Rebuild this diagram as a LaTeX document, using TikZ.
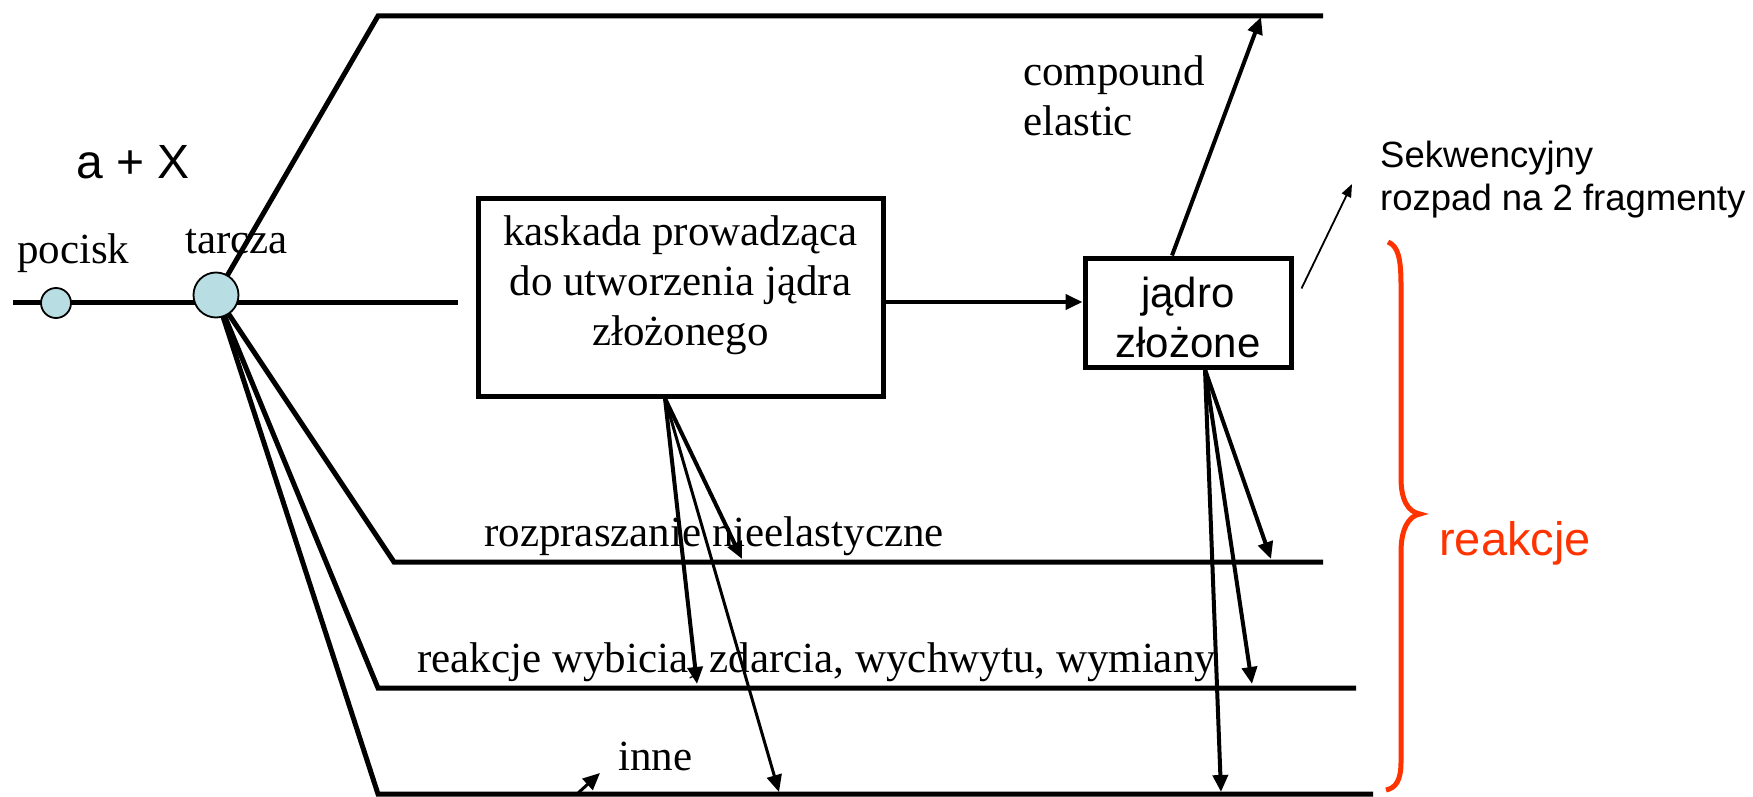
\documentclass[tikz,border=0pt]{standalone}
\usepackage{fontspec}
\setmainfont{Liberation Serif}
\setsansfont{Liberation Sans}
\usetikzlibrary{arrows.meta}
\definecolor{ballfill}{RGB}{184,222,227}
\definecolor{bracered}{RGB}{255,51,0}
\begin{document}
\begin{tikzpicture}[x=1pt,y=-1pt,
  thickline/.style={line width=5pt, line join=miter},
  boxstyle/.style={draw, line width=5pt, rectangle, inner sep=0pt, fill=white},
  ball/.style={circle, draw, line width=1.8pt, fill=ballfill, inner sep=0pt},
  serif/.style={font=\fontsize{43}{50}\selectfont, inner sep=0pt},
  sans/.style={font=\sffamily\fontsize{36.5}{43}\selectfont, inner sep=0pt},
  arr/.style={line width=4pt, -{Triangle[length=17pt,width=15pt]}},
  thinarr/.style={line width=1.8pt, -{Triangle[length=13pt,width=10pt]}},
]
\useasboundingbox (0,0) rectangle (1753,797);

% texts
\node[sans, font=\sffamily\fontsize{48}{56}\selectfont, anchor=base west] (aX) at (76,178) {a + X};
\node[serif, anchor=base west] (pocisk) at (17,263) {pocisk};
\node[serif, anchor=base west] (tarczatxt) at (185,253) {tarcza};
\node[serif, anchor=north west, align=left] (compel) at (1023,55.6) {compound\\elastic};
\node[sans, anchor=north west, align=left] (sekw) at (1380,140.5) {Sekwencyjny\\rozpad na 2 fragmenty};
\node[serif, anchor=base west] (rozp) at (484,546) {rozpraszanie nieelastyczne};
\node[serif, anchor=base west] (wybic) at (417,672) {reakcje wybicia, zdarcia, wychwytu, wymiany};
\node[serif, anchor=base west] (inne) at (618,770) {inne};
\node[sans, font=\sffamily\fontsize{47}{55}\selectfont, text=bracered, anchor=base west] (reak) at (1439,555) {reakcje};

% coordinates
\coordinate (mainL) at (13,302);
\coordinate (mainR) at (458,302);
\coordinate (tc) at (216,295);
\coordinate (k1) at (378,16);  \coordinate (e1) at (1323,16);
\coordinate (k2) at (394,562); \coordinate (e2) at (1323,562);
\coordinate (k3) at (378,688); \coordinate (e3) at (1356,688);
\coordinate (k4) at (378,794); \coordinate (e4) at (1373,794);

% level lines
\draw[thickline] (mainL) -- (mainR);
\draw[thickline] (tc) -- (k1) -- (e1);
\draw[thickline] (tc) -- (k2) -- (e2);
\draw[thickline] (tc) -- (k3) -- (e3);
\draw[thickline] (tc) -- (k4) -- (e4);

% balls
\node[ball, minimum size=30pt] (pociskball) at (56,303) {};
\node[ball, minimum size=45pt] (tarcza) at (tc) {};

% boxes
\node[boxstyle, minimum width=405pt, minimum height=198pt] (box1) at (680.5,297) {};
\node[serif, anchor=north, align=center] (box1txt) at (680.5,215.6) {kaskada prowadząca\\do utworzenia jądra\\złożonego};
\node[boxstyle, minimum width=206pt, minimum height=109pt] (box2) at (1188,312.5) {};
\node[sans, font=\sffamily\fontsize{42}{50}\selectfont, anchor=north, align=center] (box2txt) at (1188,277) {jądro\\złożone};

% target coordinates
\coordinate (t1) at (742,559);
\coordinate (t2) at (697,684);
\coordinate (t3) at (779,792);
\coordinate (u1) at (1271,559);
\coordinate (u2) at (1252,684);
\coordinate (u3) at (1221,792);
\coordinate (top) at (1261,17);
\coordinate (sekwtip) at (1352,184);
\coordinate (i0) at (577,794);
\coordinate (itip) at (600,773);

% arrows
\draw[arr] (box1.east |- mainR) -- (box2.west |- mainR);
\draw[arr] ([xshift=-16pt]box2.north) -- (top);
\draw[thinarr] ([xshift=8pt,yshift=24pt]box2.east) -- (sekwtip);
\draw[arr] ([xshift=-15.5pt]box1.south) -- (t1);
\draw[arr] ([xshift=-15.5pt]box1.south) -- (t2);
\draw[arr, line width=3pt] ([xshift=-15.5pt]box1.south) -- (t3);
\draw[arr] ([xshift=17pt]box2.south) -- (u1);
\draw[arr] ([xshift=17pt]box2.south) -- (u2);
\draw[arr] ([xshift=17pt]box2.south) -- (u3);
\draw[arr, line width=3pt] (i0) -- (itip);

% brace
\draw[bracered, line width=5pt]
  (1388,242) .. controls (1398,246) and (1401,258) .. (1401,285)
  -- (1401,478) .. controls (1401,500) and (1408,512) .. (1420,514)
  .. controls (1408,516) and (1401,530) .. (1401,552)
  -- (1401,762) .. controls (1401,780) and (1396,788) .. (1386,790);
\end{tikzpicture}
\end{document}
